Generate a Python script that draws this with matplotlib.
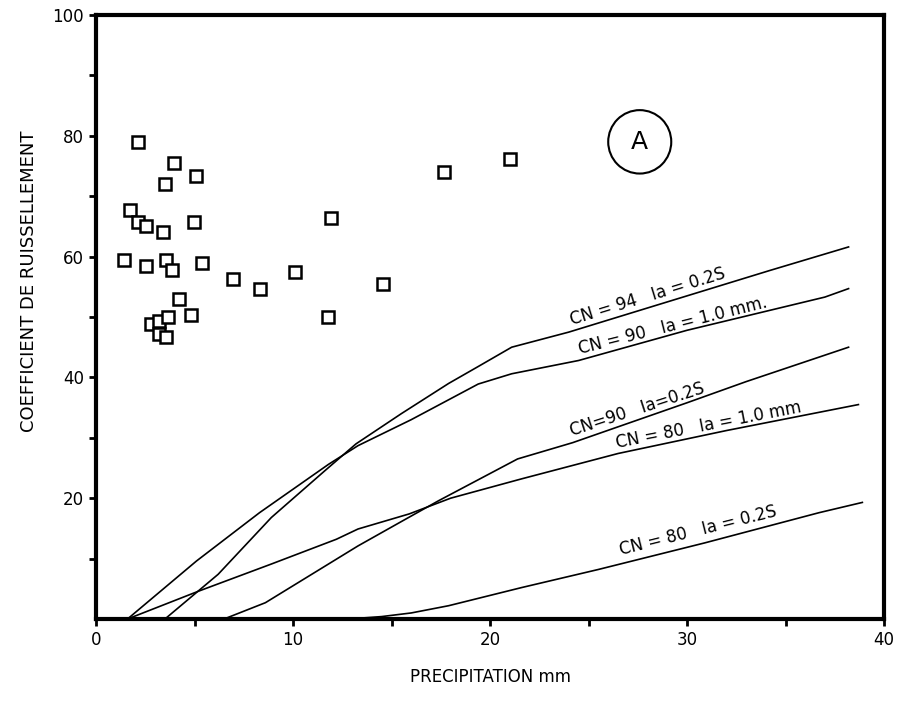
import matplotlib
matplotlib.use("Agg")
import matplotlib.pyplot as plt
from matplotlib.patches import Ellipse

# observed runoff coefficients
precip = [2.12, 3.95, 5.09, 3.49, 1.74, 2.14, 2.56, 3.39, 4.95, 11.94, 1.40, 2.56, 3.56, 3.85,
          5.37, 6.96, 8.31, 10.11, 4.20, 4.80, 11.77, 2.77, 3.22, 3.64, 3.22, 3.56, 14.56, 17.64, 20.99]
coef = [78.9, 75.5, 73.4, 72.0, 67.7, 65.8, 65.1, 64.0, 65.8, 66.4, 59.4, 58.5, 59.5, 57.7,
        59.0, 56.3, 54.6, 57.5, 52.9, 50.4, 50.0, 48.8, 49.4, 50.0, 47.2, 46.7, 55.5, 74.0, 76.1]

# SCS curves
cn94_02s_x = [3.5, 6.2, 8.9, 11.6, 13.2, 15.5, 17.9, 19.4, 21.1, 24.0, 29.0, 34.2, 38.2]
cn94_02s_y = [0.0, 7.4, 16.8, 24.5, 29.0, 34.0, 39.0, 41.8, 45.0, 47.5, 52.5, 57.7, 61.6]

cn90_1mm_x = [1.6, 5.1, 8.3, 11.8, 13.3, 16.0, 19.4, 21.1, 24.5, 30.0, 37.0, 38.2]
cn90_1mm_y = [0.0, 9.6, 17.6, 25.6, 28.7, 33.0, 38.9, 40.6, 42.8, 47.8, 53.3, 54.7]

cn90_02s_x = [6.5, 8.6, 11.5, 13.3, 15.7, 17.4, 21.4, 24.2, 30.0, 33.0, 38.2]
cn90_02s_y = [0.0, 2.7, 8.5, 12.1, 16.5, 19.6, 26.5, 29.2, 35.8, 39.3, 45.0]

cn80_1mm_x = [1.6, 5.2, 8.9, 12.2, 13.3, 15.9, 18.0, 21.6, 26.5, 32.0, 38.7]
cn80_1mm_y = [0.0, 4.6, 9.1, 13.2, 14.9, 17.4, 20.0, 23.2, 27.4, 31.2, 35.5]

cn80_02s_x = [11.0, 12.8, 14.5, 16.0, 17.9, 21.6, 25.5, 30.9, 36.7, 38.9]
cn80_02s_y = [0.0, 0.0, 0.4, 1.0, 2.2, 5.2, 8.2, 12.6, 17.6, 19.3]

fig = plt.figure(figsize=(9.04, 7.11), dpi=100)
ax = fig.add_axes([0.1062, 0.1294, 0.8717, 0.8495])

ax.plot(precip, coef, linestyle="none", marker="s", markersize=8.5,
        markerfacecolor="white", markeredgecolor="black", markeredgewidth=1.8)

for xs, ys in [(cn94_02s_x, cn94_02s_y), (cn90_1mm_x, cn90_1mm_y), (cn90_02s_x, cn90_02s_y),
               (cn80_1mm_x, cn80_1mm_y), (cn80_02s_x, cn80_02s_y)]:
    ax.plot(xs, ys, color="black", lw=1.2)

lab = dict(fontsize=12, ha="left", va="bottom", rotation_mode="anchor")
ax.text(24.2, 48.0, "CN = 94   Ia = 0.2S", rotation=17, **lab)
ax.text(24.6, 43.3, "CN = 90   Ia = 1.0 mm.", rotation=14, **lab)
ax.text(24.2, 29.6, "CN=90   Ia=0.2S", rotation=18, **lab)
ax.text(26.5, 27.7, "CN = 80   Ia = 1.0 mm", rotation=11, **lab)
ax.text(26.7, 10.0, "CN = 80   Ia = 0.2S", rotation=14, **lab)

ax.add_patch(Ellipse((27.6, 79.0), 3.2, 10.5, fill=False, lw=1.5, color="black"))
ax.text(27.6, 79.0, "A", fontsize=18, ha="center", va="center")

ax.set_xlim(0, 40)
ax.set_ylim(0, 100)
ax.set_xticks([0, 10, 20, 30, 40])
ax.set_xticks([5, 15, 25, 35], minor=True)
ax.set_yticks([20, 40, 60, 80, 100])
ax.set_yticks([10, 30, 50, 70, 90], minor=True)
ax.tick_params(which="both", direction="out", length=5, width=2, labelsize=12)
for s in ax.spines.values():
    s.set_linewidth(3)

ax.set_xlabel("PRECIPITATION mm", fontsize=12, labelpad=14)
ax.set_ylabel("COEFFICIENT DE RUISSELLEMENT", fontsize=13, labelpad=14)
ax.yaxis.set_label_coords(-0.073, 0.56)

plt.savefig("out.png", dpi=100)
